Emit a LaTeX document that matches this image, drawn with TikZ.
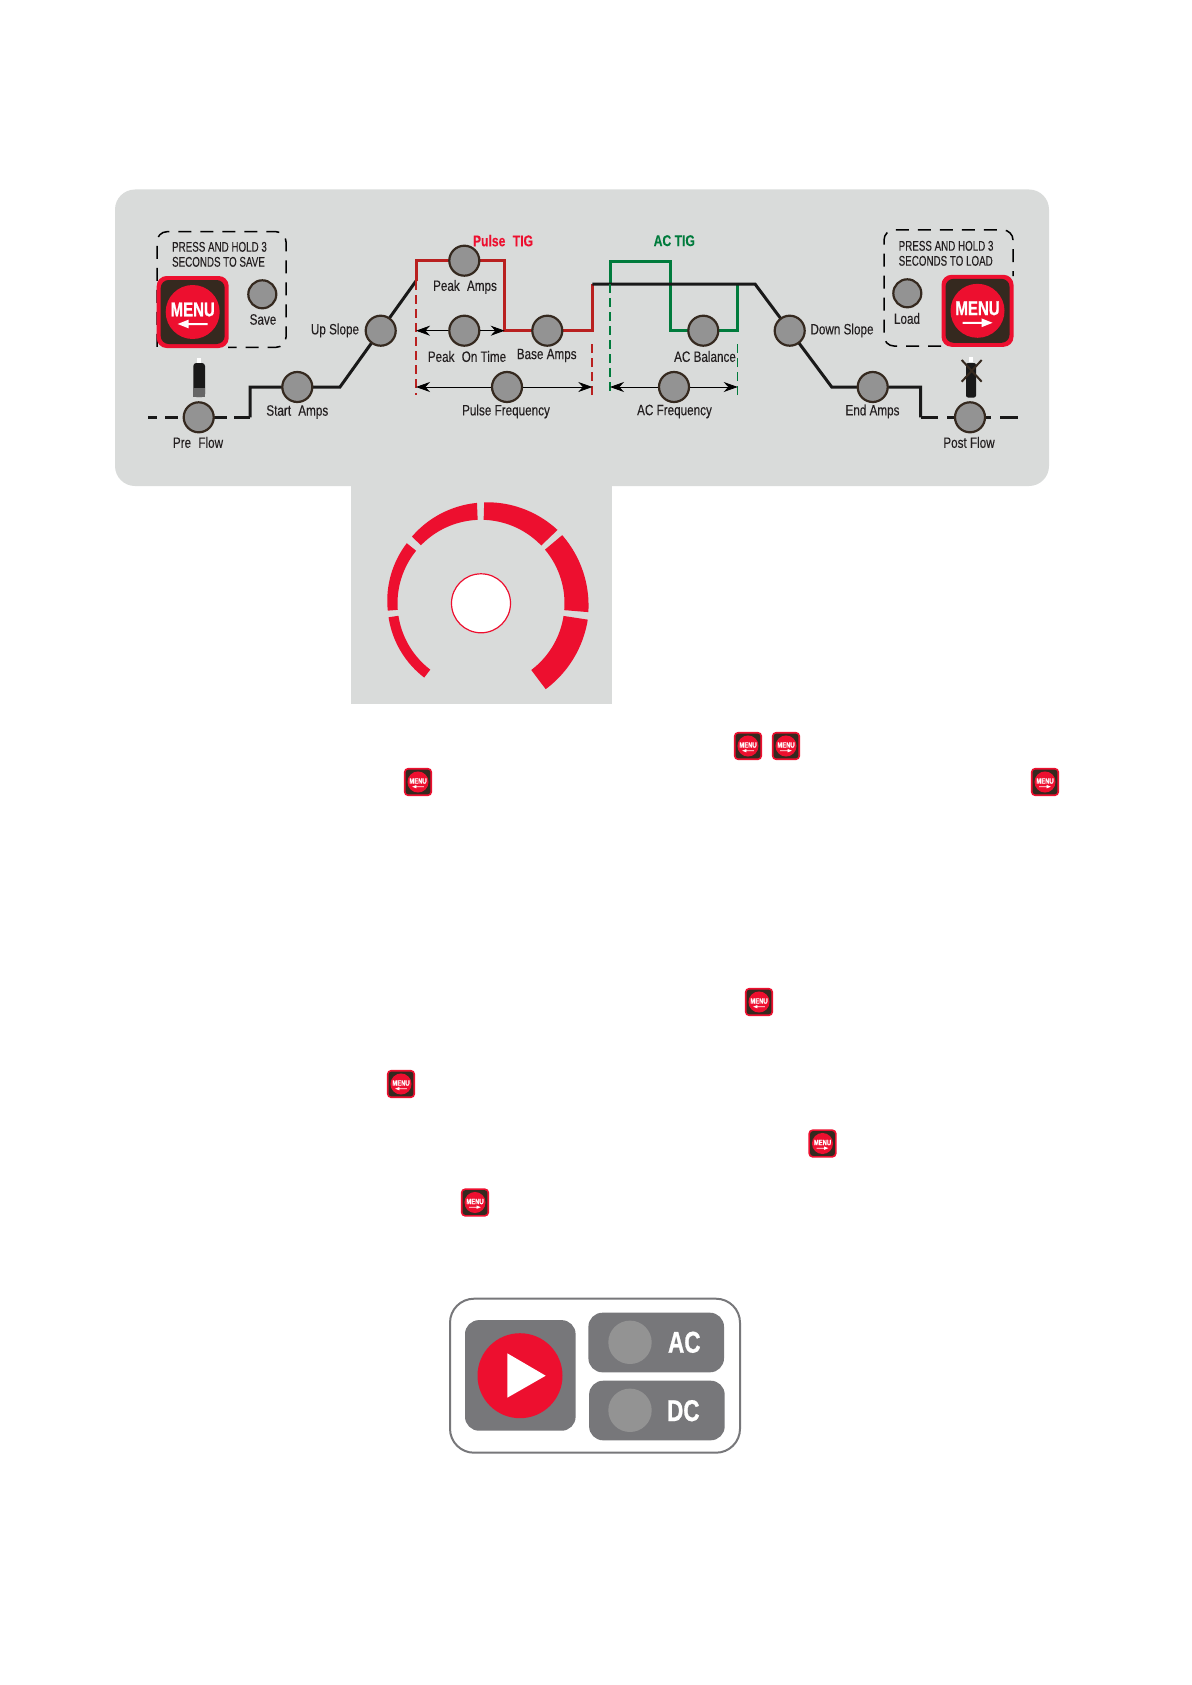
\documentclass[tikz,border=0pt]{standalone}
\usepackage{xcolor}
\usepackage{fontspec}
\usetikzlibrary{arrows.meta,positioning,calc}
\setmainfont{Liberation Sans}
\newfontfamily\condfont[FakeStretch=0.78,FakeBold=0.12]{Liberation Sans}
\newfontfamily\capsfont[FakeStretch=0.70,FakeBold=0.12]{Liberation Sans}
\newfontfamily\keyfont[FakeStretch=0.75,BoldFeatures={FakeBold=0.8}]{Liberation Sans}
\definecolor{Panel}{HTML}{D9DBDA}
\definecolor{Signal}{HTML}{ED0F2F}
\definecolor{Pulse}{HTML}{B9201F}
\definecolor{Acgreen}{HTML}{007B3C}
\definecolor{Keydark}{HTML}{35291F}
\definecolor{Lamp}{HTML}{939393}
\definecolor{Ink}{HTML}{231F20}
\definecolor{Slate}{HTML}{77777A}
\newcommand{\menukey}[5]{% name, x, y, scale, arrow direction
  \begin{scope}[shift={(#2,#3)},scale=#4,transform shape]
    \node[fill=Signal,rounded corners={#4*5pt},minimum size=36pt,inner sep=0pt] (#1) at (0,0) {};
    \node[fill=Keydark,rounded corners={#4*4pt},minimum size=32pt,inner sep=0pt] (#1-in) at (0,0) {};
    \node[circle,fill=Signal,minimum size=27pt,inner sep=0pt] (#1-disc) at (0,0) {};
    \node[text=white,inner sep=0pt,font={\keyfont\fontsize{10}{10}\selectfont\bfseries}] (#1-txt) at (0,-2.5) {MENU};
    \fill[white,xscale=#5] (-15,12) -- (-4,7.6) -- (-4,11) -- (15,11) -- (15,13) -- (-4,13) -- (-4,16.4) -- cycle;
  \end{scope}%
}
\begin{document}
\begin{tikzpicture}[x=0.5pt,y=-0.5pt,
    lamp/.style={circle,draw=Keydark,fill=Lamp,line width=1.1pt,minimum size=15pt,inner sep=0pt},
    lab/.style={text=Ink,inner sep=0pt,font={\condfont\fontsize{7.5}{8}\selectfont}},
    head/.style={lab,font={\condfont\fontsize{7.8}{8}\selectfont\bfseries}},
    wave/.style={line width=1.5pt,draw=black!90,line join=miter},
    hold/.style={draw=black,line width=0.75pt,dash pattern=on 6.5pt off 4.5pt,rounded corners=5pt},
    spanline/.style={-{Stealth[length=7pt,width=5pt]},line width=0.4pt,draw=black},
    limit/.style={line width=0.9pt,dash pattern=on 4.5pt off 2.5pt},
    gauge/.style={fill=Signal},
    pane/.style={fill=Slate,rounded corners=7pt,inner sep=0pt}]
  \useasboundingbox (0,0) rectangle (1191,1685);
  % panel
  \fill[Panel,rounded corners=10pt] (115,189.5) rectangle (1049,486);
  \fill[Panel] (351,480) rectangle (612,704);
  % waveform corners
  \coordinate (stepup) at (250,417.3);
  \coordinate (rampin) at (340,387);
  \coordinate (peakL) at (416,281);
  \coordinate (peakR) at (504.7,260.7);
  \coordinate (baseR) at (592.3,330.7);
  \coordinate (flatL) at (592.3,284);
  \coordinate (flatR) at (755,284);
  \coordinate (rampout) at (831.7,387);
  \coordinate (stepdn) at (920.7,417.3);
  \coordinate (acL) at (610,284);
  \coordinate (acM) at (670.7,261);
  \coordinate (acR) at (737.7,284);
  \draw[wave,dash pattern=on 4.5pt off 4pt on 6.5pt off 18pt on 6.5pt off 3.5pt on 8pt] (148,417.3) -- (stepup);
  \draw[wave,dash pattern=on 8.65pt off 4.5pt on 4pt off 15pt on 3pt off 4.5pt on 9pt] (stepdn) -- (1018,417.3);
  \draw[wave] (stepup) -- (stepup |- rampin) -- (rampin) -- (peakL);
  \draw[wave,draw=Pulse] (peakL) -- (peakL |- peakR) -- (peakR) -- (peakR |- baseR) -- (baseR) -- (flatL);
  \draw[wave,draw=Acgreen] (acL) -- (acL |- acM) -- (acM) -- (acM |- baseR) -- (acR |- baseR) -- (acR);
  \draw[wave] (flatL) -- (flatR) -- (rampout) -- (rampout -| stepdn) -- (stepdn);
  % limits
  \coordinate (limA) at (416,395);
  \coordinate (limB) at (592.3,395);
  \coordinate (limC) at (610,395);
  \coordinate (limD) at (737.7,395);
  \draw[limit,Pulse] (peakL) -- (limA);
  \draw[limit,Pulse] (limB) -- (592.3,343);
  \draw[limit,Acgreen] (acL) -- (limC);
  \draw[limit,Acgreen,line width=0.4pt] (limD) -- (737.7,344);
  % lamps
  \node[lamp] (preflow) at (198.7,417.3) {};
  \node[lamp] (startamps) at (297.3,387) {};
  \node[lamp] (upslope) at (380.7,330.7) {};
  \node[lamp] (peakamps) at (464.3,260.7) {};
  \node[lamp] (peakon) at (464.3,330.7) {};
  \node[lamp] (baseamps) at (547.3,330.7) {};
  \node[lamp] (pulsefreq) at (507,387) {};
  \node[lamp] (acbal) at (703.3,330.7) {};
  \node[lamp] (acfreq) at (674,387) {};
  \node[lamp] (downslope) at (789.7,330.7) {};
  \node[lamp] (endamps) at (872.7,387) {};
  \node[lamp] (postflow) at (970,417.3) {};
  \node[lamp,minimum size=14pt] (save) at (262.3,294.3) {};
  \node[lamp,minimum size=14pt] (load) at (907.3,293.3) {};
  % spans
  \draw[spanline] (peakon.west) -- (peakon.west -| peakL);
  \draw[spanline] (peakon.east) -- (peakon.east -| peakR);
  \draw[spanline] (pulsefreq.west) -- (pulsefreq.west -| limA);
  \draw[spanline] (pulsefreq.east) -- (pulsefreq.east -| limB);
  \draw[spanline] (acfreq.west) -- (acfreq.west -| limC);
  \draw[spanline] (acfreq.east) -- (acfreq.east -| limD);
  % labels
  \node[lab] (lpre) at (198,442.5) {Pre\hspace{2pt} Flow};
  \node[lab] (lstart) at (297.3,412) {Start\hspace{2pt} Amps};
  \node[lab] (lup) at (335,330.5) {Up Slope};
  \node[lab] (lpeak) at (465,287) {Peak\hspace{2pt} Amps};
  \node[lab] (lon) at (467,356.5) {Peak\hspace{2pt} On Time};
  \node[lab] (lbase) at (546.7,355.5) {Base Amps};
  \node[lab] (lpulse) at (506,411.5) {Pulse Frequency};
  \node[lab] (lacb) at (705,356.5) {AC Balance};
  \node[lab] (lacf) at (674.5,411.5) {AC Frequency};
  \node[lab] (ldown) at (842,330.5) {Down Slope};
  \node[lab] (lend) at (872.5,411.5) {End Amps};
  \node[lab] (lpost) at (969,442.5) {Post Flow};
  \node[lab] (lsave) at (263,319.5) {Save};
  \node[lab] (lload) at (907,318.5) {Load};
  \node[head,text=Signal] (tpulse) at (503,240.7) {Pulse\hspace{2pt} TIG};
  \node[head,text=Acgreen] (tac) at (674.3,240.7) {AC TIG};
  % save and load boxes
  \draw[hold] (157,346.8) -- (157,231.7) -- (286,231.7) -- (286,347.3) -- (228,347.3);
  \draw[hold] (941,346) -- (884,346) -- (884,230) -- (1013,230) -- (1013,276);
  \node[lab,align=left,anchor=north west,font={\capsfont\fontsize{7}{7.5}\selectfont}] (tsave) at (171.7,241.5) {PRESS AND HOLD 3\\SECONDS TO SAVE};
  \node[lab,align=left,anchor=north west,font={\capsfont\fontsize{7}{7.5}\selectfont}] (tload) at (898.3,240.5) {PRESS AND HOLD 3\\SECONDS TO LOAD};
  \menukey{keysave}{192.7}{312}{1}{1}
  \menukey{keyload}{977.5}{310.8}{1}{-1}
  % gas bottles
  \fill[white] (196.7,358) rectangle (201,364);
  \fill[black!90,rounded corners=1.5pt] (193.3,363) rectangle (205,397);
  \fill[black!60] (193.3,388) rectangle (205,397);
  \fill[white] (969.3,357) rectangle (973.3,362);
  \fill[black!90,rounded corners=1pt] (966,363) rectangle (976,397.5);
  \draw[Keydark,line width=1pt] (961.7,360) -- (981.7,381.7) (981.7,360) -- (961.7,381.7);
  % dial
  \foreach \ai/\aii/\ri/\rii in {232.6/188.6/93.5/93.5,184.5/141/93.5/95.5,136/92.3/96/100.5,
      88.2/43.8/101/106,40/-4.7/106/107.7,-8.7/-53/108/107.5}{
    \fill[gauge] plot[domain=\ai:\aii,samples=24] ({481+(\ri+(\rii-\ri)*(\x-\ai)/(\aii-\ai))*cos(\x)},{603.3-(\ri+(\rii-\ri)*(\x-\ai)/(\aii-\ai))*sin(\x)})
      -- plot[domain=\aii:\ai,samples=24] ({481+83.5*cos(\x)},{603.3-83.5*sin(\x)}) -- cycle;
  }
  \node[circle,draw=Signal,fill=white,line width=0.6pt,minimum size=29.5pt,inner sep=0pt] (hub) at (481,603.3) {};
  % inline keys
  \menukey{inlineA}{748}{746}{0.39}{1}
  \menukey{inlineB}{786}{746}{0.39}{-1}
  \menukey{inlineC}{418}{782}{0.39}{1}
  \menukey{inlineD}{1045}{782}{0.39}{-1}
  \menukey{inlineE}{759}{1002}{0.39}{1}
  \menukey{inlineF}{401}{1084}{0.39}{1}
  \menukey{inlineG}{822.5}{1143.5}{0.39}{-1}
  \menukey{inlineH}{475}{1202.5}{0.39}{-1}
  % process selector
  \node[draw=Slate,line width=1pt,rounded corners=12pt,minimum width=145pt,minimum height=77pt,inner sep=0pt] (selector) at (595,1375.7) {};
  \node[pane,minimum width=55.3pt,minimum height=55.3pt] (procbtn) at (520.3,1375.4) {};
  \node[pane,minimum width=67.8pt,minimum height=29.8pt] (acbtn) at (656.2,1342.5) {};
  \node[pane,minimum width=67.8pt,minimum height=29.8pt] (dcbtn) at (656.9,1410.5) {};
  \node[circle,fill=Signal,minimum size=42.5pt,inner sep=0pt] (procdisc) at (520,1375.7) {};
  \fill[white] (507.3,1353.3) -- (545.7,1375.7) -- (507.3,1397.7) -- cycle;
  \node[circle,fill=Lamp,minimum size=21.7pt,inner sep=0pt] (aclamp) at (630,1342.3) {};
  \node[circle,fill=Lamp,minimum size=21.7pt,inner sep=0pt] (dclamp) at (630,1410.3) {};
  \node[text=white,inner sep=0pt,font={\keyfont\fontsize{15}{15}\selectfont\bfseries}] (actxt) at (684.3,1342.3) {AC};
  \node[text=white,inner sep=0pt,font={\keyfont\fontsize{15}{15}\selectfont\bfseries}] (dctxt) at (683.3,1410.7) {DC};
\end{tikzpicture}
\end{document}
